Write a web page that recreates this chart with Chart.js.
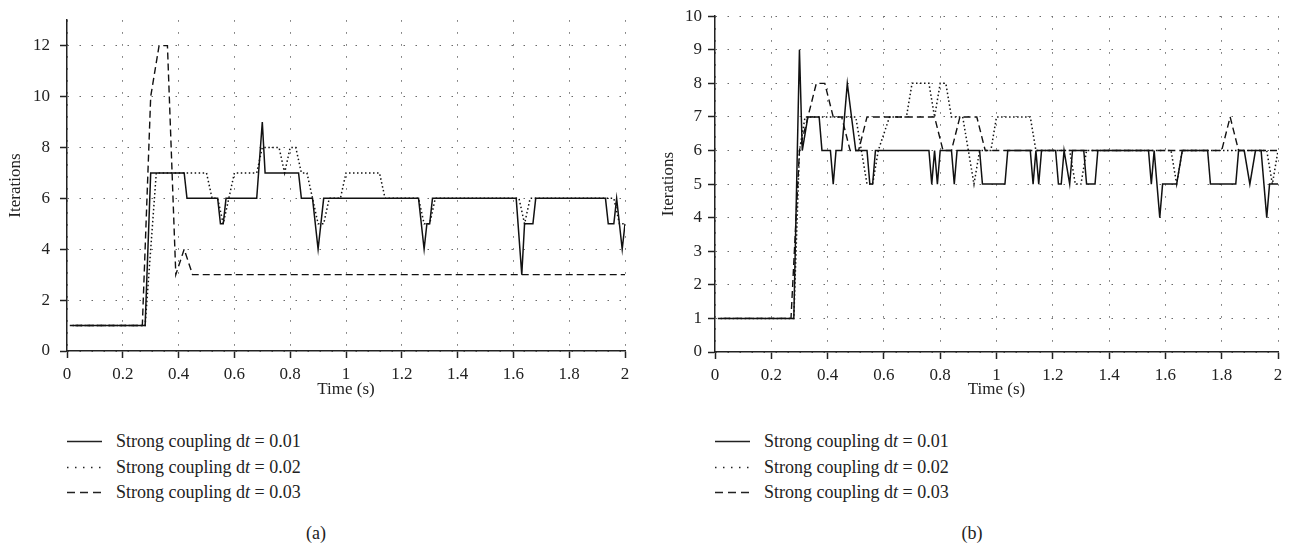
<!DOCTYPE html>
<html><head><meta charset="utf-8">
<script src="https://cdn.jsdelivr.net/npm/chart.js@4.4.1/dist/chart.umd.min.js"></script>
<style>
html,body{margin:0;padding:0;background:#fff;}
body{width:1296px;height:548px;position:relative;overflow:hidden;font-family:'Liberation Serif','Times New Roman',serif;color:#222;}
canvas{position:absolute;top:0;}
#ca{left:0;} #cb{left:650px;}
.row{position:absolute;height:22px;line-height:22px;font-size:18px;white-space:nowrap;}
.row svg{position:absolute;left:0;top:0;}
.row span{position:absolute;top:0;}
.sub{position:absolute;font-size:18px;line-height:22px;width:60px;text-align:center;}
</style></head>
<body>
<canvas id="ca" width="645" height="400"></canvas>
<canvas id="cb" width="646" height="400"></canvas>
<div id="legA"></div>
<div id="legB"></div>
<div class="sub" style="left:286px;top:522px;">(a)</div>
<div class="sub" style="left:942px;top:522px;">(b)</div>
<script>
// ---------- tick labels ----------
const xTickValues = [0,0.2,0.4,0.6,0.8,1,1.2,1.4,1.6,1.8,2];
const xTickLabels = ['0','0.2','0.4','0.6','0.8','1','1.2','1.4','1.6','1.8','2'];
const yTicksA = [0,2,4,6,8,10,12];
const yTicksB = [0,1,2,3,4,5,6,7,8,9,10];
const seriesNames = ['Strong coupling dt = 0.01','Strong coupling dt = 0.02','Strong coupling dt = 0.03'];

// ---------- panel (a) ----------
const tA1 = [0.01,0.28,0.30,0.42,0.43,0.54,0.55,0.56,0.57,0.68,0.70,0.71,0.83,0.84,0.88,0.90,0.92,1.26,1.28,1.29,1.30,1.31,1.61,1.63,1.64,1.67,1.68,1.93,1.94,1.96,1.97,1.99,2.00];
const yA1 = [1,1,7,7,6,6,5,5,6,6,9,7,7,6,6,4,6,6,4,5,5,6,6,3,5,5,6,6,5,5,6,4,5];
const tA2 = [0.02,0.28,0.32,0.50,0.52,0.54,0.56,0.58,0.60,0.68,0.70,0.76,0.78,0.80,0.82,0.84,0.86,0.88,0.90,0.92,0.94,0.98,1.00,1.12,1.14,1.26,1.28,1.30,1.32,1.62,1.64,1.66,1.96,1.98,2.00];
const yA2 = [1,1,7,7,6,6,5,6,7,7,8,8,7,8,8,7,7,6,5,5,6,6,7,7,6,6,5,5,6,6,5,6,6,5,5];
const tA3 = [0.03,0.27,0.30,0.33,0.36,0.39,0.42,0.45,2.00];
const yA3 = [1,1,10,12,12,3,4,3,3];

// ---------- panel (b) ----------
const tB1 = [0.01,0.28,0.30,0.31,0.33,0.37,0.38,0.41,0.42,0.43,0.45,0.47,0.50,0.54,0.55,0.56,0.57,0.76,0.77,0.78,0.79,0.80,0.84,0.85,0.86,0.94,0.95,1.03,1.04,1.12,1.13,1.14,1.15,1.16,1.21,1.22,1.23,1.24,1.26,1.27,1.31,1.32,1.35,1.36,1.54,1.55,1.56,1.58,1.59,1.64,1.66,1.75,1.76,1.85,1.86,1.88,1.90,1.92,1.94,1.96,1.97,2.00];
const yB1 = [1,1,9,6,7,7,6,6,5,6,6,8,6,6,5,5,6,6,5,6,5,6,6,5,6,6,5,5,6,6,5,6,5,6,6,5,5,6,5,6,6,5,5,6,6,5,6,4,5,5,6,6,5,5,6,6,5,6,6,4,5,5];
const tB2 = [0.02,0.28,0.30,0.32,0.50,0.52,0.54,0.56,0.58,0.62,0.68,0.70,0.76,0.78,0.80,0.82,0.84,0.88,0.90,0.92,0.94,0.98,1.00,1.12,1.14,1.26,1.28,1.30,1.32,1.62,1.64,1.66,1.96,1.98,2.00];
const yB2 = [1,1,6,7,7,6,5,5,6,7,7,8,8,7,8,8,7,7,6,5,6,6,7,7,6,6,5,5,6,6,5,6,6,5,6];
const tB3 = [0.03,0.27,0.30,0.33,0.36,0.39,0.42,0.45,0.48,0.51,0.54,0.75,0.78,0.81,0.84,0.87,0.93,0.96,1.80,1.83,1.86,2.00];
const yB3 = [1,1,6,7,8,8,7,7,6,6,7,7,7,6,6,7,7,6,6,7,6,6];

function pts(t, y){ return t.map((v,i)=>({x:v, y:y[i]})); }

const LINE = '#111';
const dashes = [[], [1.5,2.5], [7,4]];
const widths = [1.5, 1.5, 1.4];
const FONT = "'Liberation Serif', 'Times New Roman', serif";
Chart.defaults.font.family = FONT;
Chart.defaults.font.size = 17;
Chart.defaults.color = '#222';

function makeChart(id, series, yTicks, yMax, cfg){
  const datasets = series.map((s,i)=>({
    label: seriesNames[i], data: pts(s[0], s[1]),
    borderColor: LINE, borderWidth: widths[i], borderDash: dashes[i],
    pointRadius: 0, fill: false, tension: 0, borderCapStyle: 'butt'
  }));
  const gridCommon = {color:'#6a6a6a', lineWidth:1, drawTicks:true, tickLength:7, tickColor:'#222', tickWidth:1.5, tickBorderDash:[]};
  const f = {family:FONT, size:17, style:'normal', weight:'normal'};
  return new Chart(document.getElementById(id), {
    type:'line',
    data:{datasets},
    options:{
      responsive:false, animation:false, devicePixelRatio:1,
      layout:{padding:cfg.pad},
      font: f,
      plugins:{legend:{display:false}, tooltip:{enabled:false}},
      scales:{
        x:{type:'linear', min:0, max:2,
          afterBuildTicks: ax => { ax.ticks = xTickValues.map(v=>({value:v})); },
          afterFit: ax => { ax.height = cfg.xh; },
          ticks:{callback:(v)=>xTickLabels[Math.round(v*5)], padding:6, maxRotation:0, autoSkip:false, color:'#222', font:f},
          grid: gridCommon,
          border:{display:true, color:'#222', width:1.5, dash:[1.5,10.5]},
          title:{display:true, text:'Time (s)', color:'#222', font:f, padding:{top:0,bottom:0}}
        },
        y:{type:'linear', min:0, max:yMax,
          afterBuildTicks: ax => { ax.ticks = yTicks.map(v=>({value:v})); },
          afterFit: ax => { ax.width = cfg.yw; },
          ticks:{callback:(v)=>String(v), padding:cfg.ypad, autoSkip:false, color:'#222', font:f},
          grid: gridCommon,
          border:{display:true, color:'#222', width:1.5, dash:[1.5,10.5]},
          title:{display:true, text:'Iterations', color:'#222', font:f, padding:{top:cfg.ytp,bottom:0}}
        }
      }
    }
  });
}

makeChart('ca', [[tA1,yA1],[tA2,yA2],[tA3,yA3]], yTicksA, 13,
  {pad:{top:17,right:20,left:0,bottom:0}, xh:49, yw:67, ypad:10, ytp:5});
makeChart('cb', [[tB1,yB1],[tB2,yB2],[tB3,yB3]], yTicksB, 10,
  {pad:{top:13,right:18,left:0,bottom:0}, xh:48, yw:65, ypad:6, ytp:8});

// ---------- HTML legends ----------
const legDash = ['', '1.5 6.5', '8 5'];
function buildLegend(id, x, textX, ys){
  const host = document.getElementById(id);
  seriesNames.forEach((name,i)=>{
    const row = document.createElement('div');
    row.className = 'row';
    row.style.left = x + 'px';
    row.style.top = (ys[i] - 11) + 'px';
    row.style.width = '260px';
    const svgNS = 'http://www.w3.org/2000/svg';
    const svg = document.createElementNS(svgNS, 'svg');
    svg.setAttribute('width','36'); svg.setAttribute('height','22');
    const ln = document.createElementNS(svgNS, 'line');
    ln.setAttribute('x1','0'); ln.setAttribute('x2','35');
    ln.setAttribute('y1','11.5'); ln.setAttribute('y2','11.5');
    ln.setAttribute('stroke','#222'); ln.setAttribute('stroke-width', '1.5');
    if (legDash[i]) ln.setAttribute('stroke-dasharray', legDash[i]);
    svg.appendChild(ln);
    row.appendChild(svg);
    const sp = document.createElement('span');
    sp.style.left = (textX - x) + 'px';
    const parts = name.split('dt');
    sp.appendChild(document.createTextNode(parts[0] + 'd'));
    const it = document.createElement('i'); it.textContent = 't';
    sp.appendChild(it);
    sp.appendChild(document.createTextNode(parts[1]));
    row.appendChild(sp);
    host.appendChild(row);
  });
}
buildLegend('legA', 67, 116, [441, 467, 492]);
buildLegend('legB', 715, 764, [441, 467, 492]);
</script>
</body></html>
